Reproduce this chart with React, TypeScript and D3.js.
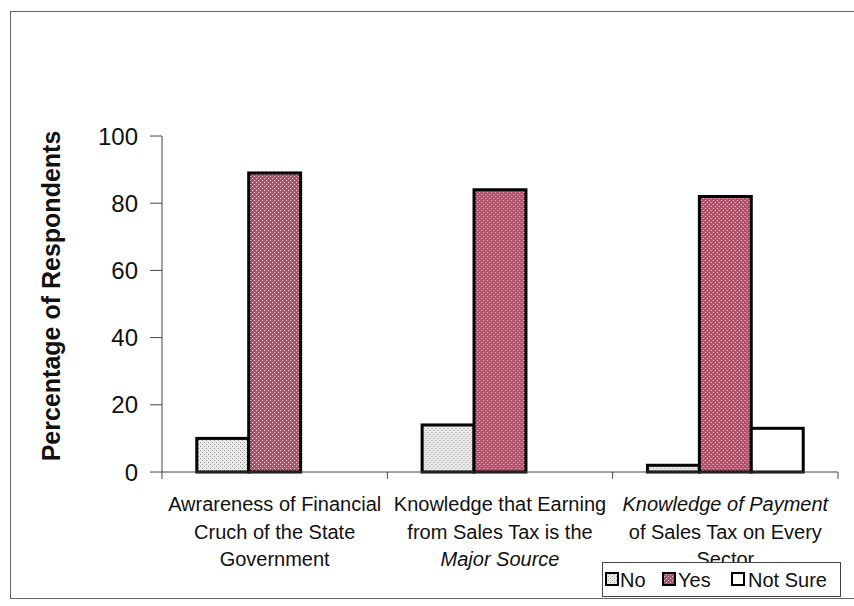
import React from "react";
import * as d3 from "d3";

const categories = [
  "Awrareness of Financial Cruch of the State Government",
  "Knowledge that Earning from Sales Tax is the Major Source",
  "Knowledge of Payment of Sales Tax on Every Sector",
];
const categoryLines = [
  ["Awrareness of Financial", "Cruch of the State", "Government"],
  ["Knowledge that Earning", "from Sales Tax is the", "Major Source"],
  ["Knowledge of Payment", "of Sales Tax on Every", "Sector"],
];
const italicLines = [
  [false, false, false],
  [false, false, true],
  [true, false, false],
];
const seriesNames = ["No", "Yes", "Not Sure"];
const noValues = [10, 14, 2];
const yesValues = [89, 84, 82];
const notSureValues = [0, 0, 13];
const yTicks = [0, 20, 40, 60, 80, 100];

const seriesValues = [noValues, yesValues, notSureValues];
const fills = ["url(#patNo)", "url(#patYes)", "#ffffff"];
const FONT = "'Liberation Sans', Arial, Helvetica, sans-serif";

export default function App() {
  const W = 854;
  const H = 606;
  const x0 = d3.scaleBand<string>().domain(categories).range([162, 838]).paddingInner(0).paddingOuter(0);
  const x1 = d3.scaleBand<string>().domain(seriesNames).range([0, x0.bandwidth()]).paddingInner(0).paddingOuter(0.67);
  const y = d3.scaleLinear().domain([0, 100]).range([472, 136]);

  const legendItems = [
    { name: "No", sx: 606, tx: 620 },
    { name: "Yes", sx: 663, tx: 678 },
    { name: "Not Sure", sx: 732, tx: 748 },
  ];

  return (
    <svg width={W} height={H} style={{ position: "absolute", left: 0, top: 0, background: "#fff" }}>
      <defs>
        <pattern id="patNo" width={4} height={4} patternUnits="userSpaceOnUse">
          <rect width={4} height={4} fill="#e8e8e8" />
          <rect x={0} y={0} width={1} height={1} fill="#9a9a9a" />
          <rect x={2} y={2} width={1} height={1} fill="#9a9a9a" />
        </pattern>
        <pattern id="patYes" width={4} height={4} patternUnits="userSpaceOnUse">
          <rect width={4} height={4} fill="#b25069" />
          <rect x={0} y={0} width={1} height={1} fill="#f4d2dc" />
          <rect x={2} y={2} width={1} height={1} fill="#f4d2dc" />
        </pattern>
      </defs>
      <rect x={0} y={0} width={W} height={H} fill="#fff" />
      {/* outer frame */}
      <rect x={10.5} y={11.5} width={850} height={587} fill="none" stroke="#666" strokeWidth={1} />

      {/* bars */}
      {categories.map((c, ci) => (
        <g key={c} transform={`translate(${x0(c)},0)`}>
          {seriesNames.map((s, si) => {
            const v = seriesValues[si][ci];
            if (v <= 0) return null;
            return (
              <rect
                key={s}
                x={x1(s)}
                y={y(v)}
                width={x1.bandwidth()}
                height={y(0) - y(v)}
                fill={fills[si]}
                stroke="#000"
                strokeWidth={3}
              />
            );
          })}
        </g>
      ))}

      {/* y axis */}
      <line x1={162} x2={162} y1={y(100)} y2={y(0)} stroke="#444" strokeWidth={1} />
      {yTicks.map((t) => (
        <g key={t}>
          <line x1={150} x2={162} y1={y(t)} y2={y(t)} stroke="#444" strokeWidth={1} />
          <text x={138} y={y(t)} dy="0.36em" textAnchor="end" fontFamily={FONT} fontSize={24} fill="#111">
            {t}
          </text>
        </g>
      ))}
      <text
        transform={`translate(60,${(y(0) + y(100)) / 2 - 8}) rotate(-90)`}
        textAnchor="middle"
        fontFamily={FONT}
        fontSize={25}
        fontWeight="bold"
        fill="#111"
      >
        Percentage of Respondents
      </text>

      {/* x axis */}
      <line x1={162} x2={838} y1={y(0)} y2={y(0)} stroke="#444" strokeWidth={1} />
      {categories.map((c) => (
        <line key={c} x1={(x0(c) as number) + x0.bandwidth()} x2={(x0(c) as number) + x0.bandwidth()} y1={y(0)} y2={y(0) + 7} stroke="#444" />
      ))}
      <line x1={162} x2={162} y1={y(0)} y2={y(0) + 7} stroke="#444" />
      {categories.map((c, ci) => (
        <text key={c} textAnchor="middle" fontFamily={FONT} fontSize={20} fill="#111">
          {categoryLines[ci].map((ln, li) => (
            <tspan
              key={li}
              x={(x0(c) as number) + x0.bandwidth() / 2}
              y={511 + li * 27.5}
              fontStyle={italicLines[ci][li] ? "italic" : "normal"}
            >
              {ln}
            </tspan>
          ))}
        </text>
      ))}

      {/* legend */}
      <rect x={602.5} y={562.5} width={238} height={34} fill="#fff" stroke="#444" strokeWidth={1} />
      {legendItems.map((it, i) => (
        <g key={it.name}>
          <rect x={it.sx} y={573} width={12} height={12} fill={fills[i]} stroke="#000" strokeWidth={2} />
          <text x={it.tx} y={587} fontFamily={FONT} fontSize={20} fill="#111">
            {seriesNames[i]}
          </text>
        </g>
      ))}
    </svg>
  );
}
